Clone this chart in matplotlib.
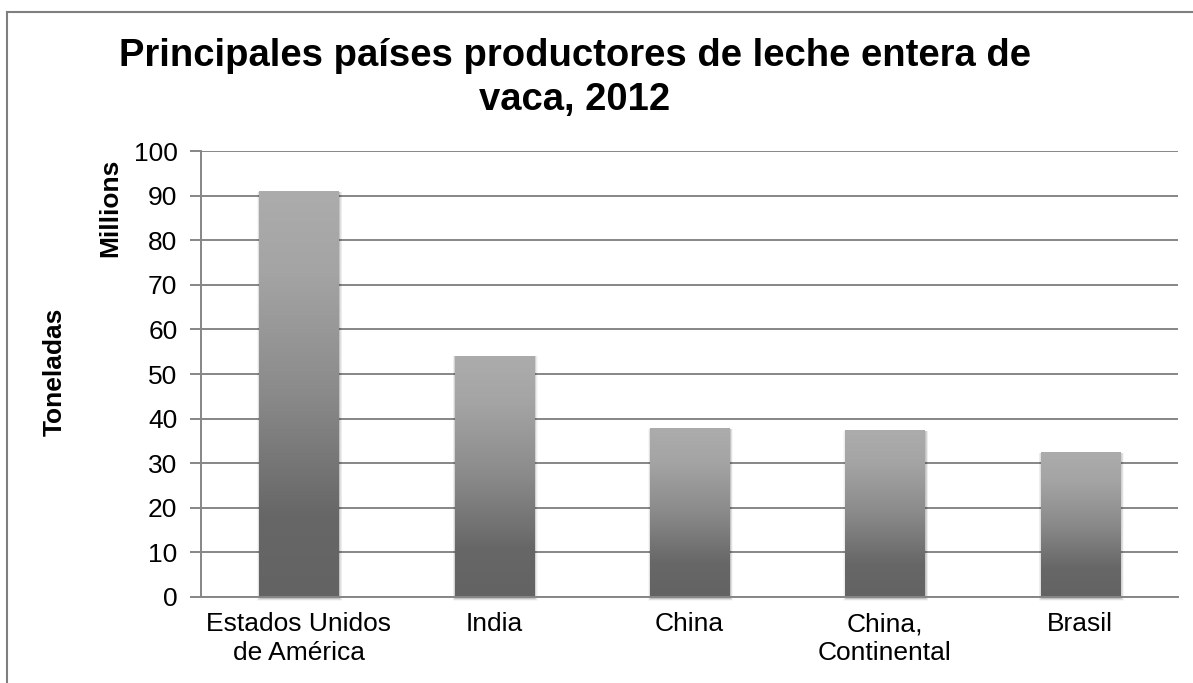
import matplotlib
matplotlib.use("Agg")
import matplotlib.pyplot as plt
import numpy as np
from matplotlib.lines import Line2D
from matplotlib.patches import Rectangle
from matplotlib.colors import LinearSegmentedColormap

# ---- data ----
categories = ["Estados Unidos\nde América", "India", "China", "China,\nContinental", "Brasil"]
values = [91.0, 54.1, 37.8, 37.4, 32.4]
yticks = [0, 10, 20, 30, 40, 50, 60, 70, 80, 90, 100]
title = "Principales países productores de leche entera de\nvaca, 2012"
ylabel_main = "Toneladas"
ylabel_units = "Millions"

plt.rcParams['font.family'] = ['Liberation Sans', 'DejaVu Sans']

W, H = 1193, 683
fig = plt.figure(figsize=(W / 100, H / 100), dpi=100)
fig.patch.set_facecolor('white')

left, right, top, bottom = 201, 1178, 151, 597
ax = fig.add_axes([left / W, 1 - bottom / H, (right - left) / W, (bottom - top) / H])

x = np.arange(len(values))
bars = ax.bar(x, values, width=0.405, color='none', edgecolor='none', zorder=3)

ax.set_xlim(-0.5, len(values) - 0.5)
ax.set_ylim(0, 100)

# pixel -> data conversion
px_x = (len(values)) / (right - left)
px_y = 100 / (bottom - top)

cmap = LinearSegmentedColormap.from_list(
    'g', [(0.0, '#636363'), (0.2, '#676767'), (0.5, '#8a8a8a'), (0.8, '#a4a4a4'), (1.0, '#acacac')])
grad = np.linspace(0, 1, 256).reshape(-1, 1)

for b in bars:
    x0, y0 = b.get_x(), b.get_y()
    w, h = b.get_width(), b.get_height()
    # soft shadow
    for k, a in [(5, 0.03), (4, 0.04), (3, 0.05), (2, 0.06), (1, 0.07)]:
        ax.add_patch(Rectangle((x0 - k * px_x * 0.6 + px_x, y0 - k * px_y * 0.6 - px_y),
                               w + 1.2 * k * px_x, h + 1.2 * k * px_y * 0.6,
                               facecolor='black', edgecolor='none', alpha=a, zorder=2.5,
                               clip_on=False))
    im = ax.imshow(grad, extent=[x0, x0 + w, y0, y0 + h], origin='lower', cmap=cmap,
                   aspect='auto', zorder=3, interpolation='bilinear')
    im.set_clip_path(b)

ax.set_xlim(-0.5, len(values) - 0.5)
ax.set_ylim(0, 100)

ax.set_yticks(yticks)
ax.set_yticklabels([str(t) for t in yticks])
ax.set_xticks(x)
ax.set_xticklabels(categories, linespacing=1.25)

grid_c = '#868686'
ax.set_axisbelow(True)
ax.yaxis.grid(True, color=grid_c, lw=1.4, zorder=0)
ax.xaxis.grid(False)
for s in ['top', 'right']:
    ax.spines[s].set_visible(False)
for s in ['left', 'bottom']:
    ax.spines[s].set_color(grid_c)
    ax.spines[s].set_linewidth(1.4)
ax.spines['bottom'].set_zorder(4)

ax.tick_params(axis='y', length=8, width=1.4, color=grid_c, labelsize=19, pad=9, labelcolor='black')
ax.tick_params(axis='x', length=0, labelsize=19, pad=11, labelcolor='black')

fig.text(55 / W, 1 - 372 / H, ylabel_main, rotation=90, ha='center', va='center',
         fontsize=19, fontweight='bold')
fig.text(110 / W, 1 - 208 / H, ylabel_units, rotation=90, ha='center', va='center',
         fontsize=19, fontweight='bold')

fig.text(575 / W, 1 - 78 / H, title, ha='center', va='center', fontsize=27.5,
         fontweight='bold', linespacing=1.27)

# outer chart border (only left and top visible in the crop)
bc = '#7f7f7f'
fig.add_artist(Line2D([7 / W, 7 / W], [0, 1 - 12 / H], transform=fig.transFigure, color=bc, lw=1.5))
fig.add_artist(Line2D([7 / W, 1], [1 - 12 / H, 1 - 12 / H], transform=fig.transFigure, color=bc, lw=1.5))

fig.savefig('out.png', dpi=100, facecolor='white')
